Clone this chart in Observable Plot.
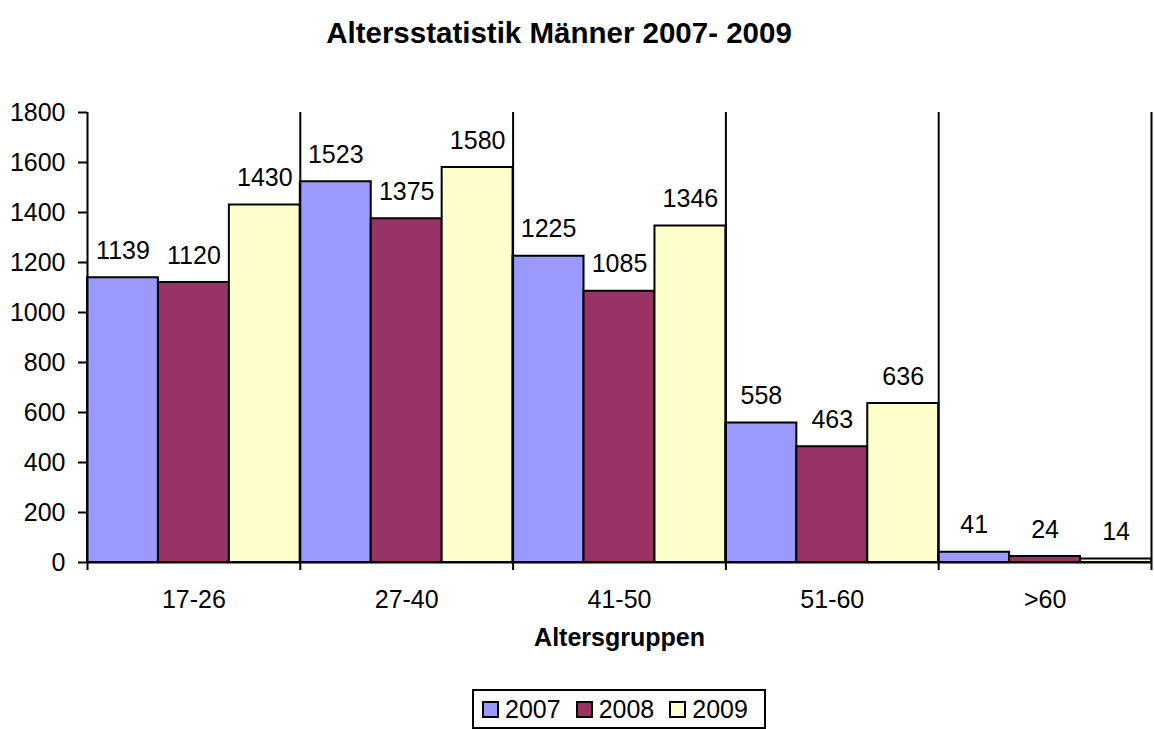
<!DOCTYPE html>
<html>
<head>
<meta charset="utf-8">
<script src="https://cdn.jsdelivr.net/npm/d3@7"></script>
<script src="https://cdn.jsdelivr.net/npm/@observablehq/plot@0.6"></script>
<style>
  html, body { margin: 0; padding: 0; background: #fff; }
  body { position: relative; width: 1154px; height: 729px; overflow: hidden; font-family: "Liberation Sans", Arial, sans-serif; }
  #title { position: absolute; left: 0; top: 0; width: 1118px; line-height: 66px; text-align: center; font-weight: bold; font-size: 29.5px; color: #000; }
  #chart { position: absolute; left: 0; top: 0; }
  #legend { position: absolute; left: 472px; top: 689px; width: 294px; height: 40px; box-sizing: border-box; border: 2px solid #000; display: flex; align-items: center; padding-left: 8px; font-size: 25px; background: #fff; }
  .item { display: flex; align-items: center; margin-right: 15px; }
  .sw { width: 17px; height: 17px; box-sizing: border-box; border: 2px solid #000; margin-right: 6px; }
</style>
</head>
<body>
<div id="title">Altersstatistik Männer 2007- 2009</div>
<div id="chart"></div>
<div id="legend"></div>
<script>
const categories = ["17-26", "27-40", "41-50", "51-60", ">60"];
const years = ["2007", "2008", "2009"];
const values2007 = [1139, 1523, 1225, 558, 41];
const values2008 = [1120, 1375, 1085, 463, 24];
const values2009 = [1430, 1580, 1346, 636, 14];
const colors = ["#9999FF", "#993366", "#FFFFCC"];
const yTicks = [0, 200, 400, 600, 800, 1000, 1200, 1400, 1600, 1800];
const xLabel = "Altersgruppen";

const series = [values2007, values2008, values2009];
const rows = categories.flatMap((c, i) =>
  series.map((vals, j) => ({cat: c, year: years[j], value: vals[i], x1: i + j / 3, x2: i + (j + 1) / 3}))
);

const chart = Plot.plot({
  width: 1154,
  height: 690,
  marginTop: 112,
  marginBottom: 128,
  marginLeft: 87,
  marginRight: 3,
  style: {fontFamily: "'Liberation Sans', Arial, sans-serif", fontSize: "25px", background: "transparent", overflow: "visible"},
  x: {domain: [0, categories.length]},
  y: {domain: [0, 1800]},
  color: {domain: years, range: colors},
  marks: [
    Plot.rect(rows, {x1: "x1", x2: "x2", y1: () => 0, y2: "value", fill: "year", stroke: "black", strokeWidth: 2}),
    Plot.ruleX(d3.range(categories.length + 1), {stroke: "black", strokeWidth: 2, insetBottom: -8}),
    Plot.ruleY([0], {stroke: "black", strokeWidth: 2}),
    Plot.axisY(yTicks, {tickSize: 9, tickPadding: 13, strokeWidth: 2, label: null, fontSize: 25, tickFormat: d => String(d)}),
    Plot.axisX(categories.map((c, i) => i + 0.5), {tickFormat: d => categories[Math.floor(d)], tickSize: 0, tickPadding: 28, label: null, fontSize: 25}),
    Plot.text(rows, {x: d => (d.x1 + d.x2) / 2, y: "value", text: d => String(d.value), dy: -27, fontSize: 25, fill: "black"}),
    Plot.text([xLabel], {text: d => d, frameAnchor: "bottom", dy: 83, fontSize: 25, fontWeight: "bold", fill: "black"})
  ]
});
document.getElementById("chart").appendChild(chart);

const legend = document.getElementById("legend");
years.forEach((y, j) => {
  const item = document.createElement("div");
  item.className = "item";
  const sw = document.createElement("div");
  sw.className = "sw";
  sw.style.background = colors[j];
  const t = document.createElement("span");
  t.textContent = y;
  item.appendChild(sw);
  item.appendChild(t);
  legend.appendChild(item);
});
</script>
</body>
</html>
